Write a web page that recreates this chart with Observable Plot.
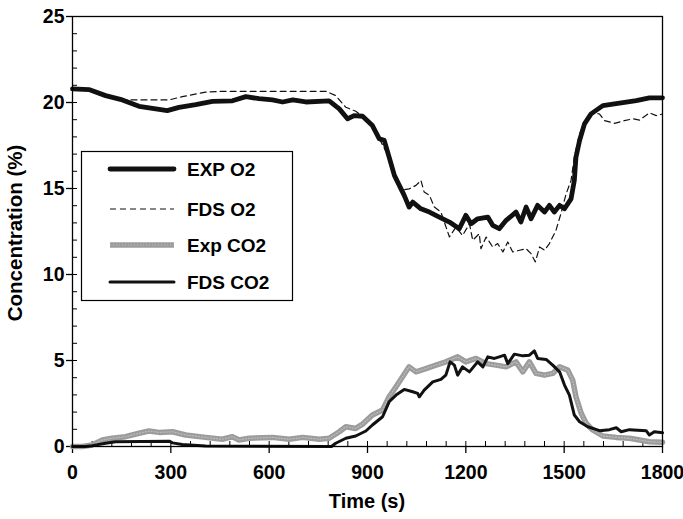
<!DOCTYPE html>
<html>
<head>
<meta charset="utf-8">
<script src="https://cdn.jsdelivr.net/npm/d3@7"></script>
<script src="https://cdn.jsdelivr.net/npm/@observablehq/plot@0.6"></script>
<style>
  html, body { margin: 0; padding: 0; background: white; }
</style>
</head>
<body>
<div id="chart"></div>
<script>
// ---- Data (time in s, concentration in %) ----
const expO2T = [0,50,101,152,203,254,289,325,376,427,488,529,569,610,641,672,712,783,814,839,859,885,915,936,951,966,982,997,1012,1027,1038,1063,1089,1119,1150,1180,1200,1216,1236,1267,1282,1302,1323,1353,1368,1384,1399,1419,1440,1455,1470,1486,1501,1521,1531,1536,1547,1562,1582,1618,1669,1720,1760,1800];
const expO2V = [20.79,20.75,20.40,20.15,19.78,19.63,19.53,19.72,19.88,20.07,20.1,20.34,20.22,20.15,20.03,20.15,20.03,20.1,19.63,19.05,19.24,19.2,18.66,17.89,17.8,16.82,15.76,15.18,14.6,13.92,14.21,13.82,13.63,13.34,13.05,12.66,13.44,12.95,13.24,13.34,12.86,12.66,13.15,13.63,13.05,13.92,13.24,14.02,13.63,14.02,13.63,14.02,13.82,14.4,15.47,16.82,17.79,18.76,19.34,19.82,19.96,20.11,20.27,20.27];

const fdsO2T = [0,50,101,152,177,295,335,406,457,773,803,834,864,885,915,936,966,1000,1027,1048,1063,1073,1089,1104,1124,1150,1170,1190,1211,1221,1241,1246,1262,1282,1297,1313,1328,1343,1364,1384,1399,1412,1425,1440,1455,1475,1490,1506,1521,1531,1547,1567,1587,1608,1623,1654,1684,1710,1730,1760,1781,1800];
const fdsO2V = [20.79,20.75,20.40,20.17,20.15,20.15,20.34,20.6,20.65,20.65,20.4,19.72,19.49,19.2,18.7,17.9,16.8,14.89,14.98,15.18,15.47,14.79,14.6,13.92,13.63,12.18,12.76,12.27,12.95,11.99,12.37,11.5,12.18,11.6,11.8,11.31,11.89,11.31,11.41,11.5,11.21,10.73,11.6,11.41,11.8,12.57,13.53,14.69,15.47,16.82,18.18,18.95,19.43,19.33,18.95,18.79,18.95,19.05,18.98,19.4,19.24,19.33];

const expCO2T = [0,30,60,91,121,162,203,233,264,305,345,406,457,488,508,539,610,661,702,753,783,814,834,864,885,915,946,966,987,1007,1027,1048,1078,1109,1139,1175,1200,1231,1262,1292,1323,1353,1374,1394,1414,1440,1465,1486,1511,1526,1536,1552,1567,1587,1618,1659,1699,1730,1760,1800];
const expCO2V = [0,0,0.09,0.38,0.48,0.57,0.77,0.9,0.82,0.86,0.67,0.53,0.42,0.57,0.38,0.48,0.53,0.42,0.53,0.42,0.48,0.86,1.15,1.05,1.3,1.83,2.12,2.89,3.47,4.05,4.63,4.34,4.53,4.73,4.92,5.21,4.92,5.12,4.82,4.73,4.63,4.92,4.34,4.92,4.25,4.15,4.25,4.63,4.44,3.86,2.89,1.93,1.35,0.96,0.61,0.53,0.48,0.38,0.28,0.25];

const fdsCO2T = [0,40,60,101,131,295,305,335,406,790,803,834,864,895,915,946,966,987,1012,1038,1053,1058,1073,1099,1124,1139,1152,1165,1175,1190,1211,1236,1252,1267,1287,1302,1318,1328,1348,1374,1394,1409,1419,1445,1465,1486,1501,1516,1531,1547,1572,1608,1638,1659,1674,1699,1750,1760,1775,1800];
const fdsCO2V = [0,0,0.05,0.19,0.28,0.31,0.21,0.12,0.03,0,0.19,0.48,0.61,0.9,1.25,1.73,2.6,2.99,3.32,3.18,3.09,2.89,3.28,3.76,3.9,4.15,4.92,4.73,4.15,4.63,4.34,4.92,4.63,5.21,5.12,5.21,5.31,4.82,5.37,5.27,5.31,5.56,5.12,5.06,4.73,4.34,3.57,2.99,1.83,1.44,1.15,0.92,0.98,1.09,0.86,0.98,0.92,0.67,0.86,0.8];

const xTicks = [0,300,600,900,1200,1500,1800];
const yTicks = [0,5,10,15,20,25];
const xMinor = d3.range(0, 1801, 60);
const yMinor = d3.range(0, 26, 1);
const seriesNames = ["EXP O2", "FDS O2", "Exp CO2", "FDS CO2"];
const xTitle = "Time (s)";
const yTitle = "Concentration (%)";

// ---- Build tables ----
const zip = (T, V) => T.map((t, i) => ({t, v: V[i]}));
const expO2 = zip(expO2T, expO2V);
const fdsO2 = zip(fdsO2T, fdsO2V);
const expCO2 = zip(expCO2T, expCO2V);
const fdsCO2 = zip(fdsCO2T, fdsCO2V);

const W = 683, H = 519;
const mL = 72, mR = 21, mT = 16, mB = 73;
const plotW = W - mL - mR, plotH = H - mT - mB;
const FONT = "'Liberation Sans', Arial, Helvetica, sans-serif";
const fmt = d => String(d);

const chart = Plot.plot({
  width: W, height: H,
  marginLeft: mL, marginRight: mR, marginTop: mT, marginBottom: mB,
  style: {background: "white", color: "black", fontFamily: FONT, fontSize: "19.5px", fontWeight: "bold", overflow: "visible"},
  x: {domain: [0, 1800]},
  y: {domain: [0, 25]},
  marks: [
    Plot.axisX(xTicks, {tickSize: 7, tickPadding: 12, tickFormat: fmt, label: null, stroke: "black", strokeWidth: 1.3, strokeOpacity: 1}),
    Plot.axisY(yTicks, {tickSize: 6, tickPadding: 2, tickFormat: fmt, label: null, stroke: "black", strokeWidth: 1.3, strokeOpacity: 1}),
    Plot.tickY(yMinor, {insetRight: plotW - 5, stroke: "black", strokeWidth: 1}),
    Plot.tickX(xMinor, {insetTop: plotH - 5, stroke: "black", strokeWidth: 1}),
    // CO2 series
    Plot.line(expCO2, {x: "t", y: "v", stroke: "#9c9c9c", strokeWidth: 5.5, strokeLinejoin: "round"}),
    Plot.line(expCO2, {x: "t", y: "v", stroke: "#bdbdbd", strokeWidth: 1.2, strokeDasharray: "1,2"}),
    Plot.line(fdsCO2, {x: "t", y: "v", stroke: "#111", strokeWidth: 3, strokeLinejoin: "round"}),
    // O2 series
    Plot.line(expO2, {x: "t", y: "v", stroke: "#111", strokeWidth: 4.8, strokeLinejoin: "round"}),
    Plot.line(fdsO2, {x: "t", y: "v", stroke: "#111", strokeWidth: 1.2, strokeDasharray: "6,4"}),
    Plot.frame({stroke: "black", strokeWidth: 1.3})
  ]
});

document.getElementById("chart").appendChild(chart);

// ---- Titles & legend (layout) ----
const svg = d3.select(chart);
svg.append("text")
  .attr("x", mL + plotW / 2).attr("y", 508)
  .attr("text-anchor", "middle")
  .style("font", `bold 20px ${FONT}`)
  .text(xTitle);
svg.append("text")
  .attr("transform", `translate(22,${mT + plotH / 2 + 2}) rotate(-90)`)
  .attr("text-anchor", "middle")
  .style("font", `bold 20.5px ${FONT}`)
  .text(yTitle);

const lg = svg.append("g");
lg.append("rect").attr("x", 81.5).attr("y", 151.5).attr("width", 211).attr("height", 149)
  .attr("fill", "white").attr("stroke", "black").attr("stroke-width", 1.2);
const rowsY = [169, 209, 245, 282];
const styles = [
  [{stroke: "#111", w: 4.8}],
  [{stroke: "#111", w: 1.2, dash: "6,4"}],
  [{stroke: "#9c9c9c", w: 5.5, flat: true}, {stroke: "#bdbdbd", w: 1.2, dash: "1,2"}],
  [{stroke: "#111", w: 3}]
];
seriesNames.forEach((name, i) => {
  styles[i].forEach(s => {
    const l = lg.append("line").attr("x1", 110).attr("x2", 174).attr("y1", rowsY[i]).attr("y2", rowsY[i])
      .attr("stroke", s.stroke).attr("stroke-width", s.w)
      .attr("stroke-linecap", (s.dash || s.flat) ? "butt" : "round");
    if (s.dash) l.attr("stroke-dasharray", s.dash);
  });
  lg.append("text").attr("x", 187).attr("y", rowsY[i] + 7)
    .attr("text-anchor", "start")
    .style("font", `bold 19px ${FONT}`).text(name);
});
</script>
</body>
</html>
